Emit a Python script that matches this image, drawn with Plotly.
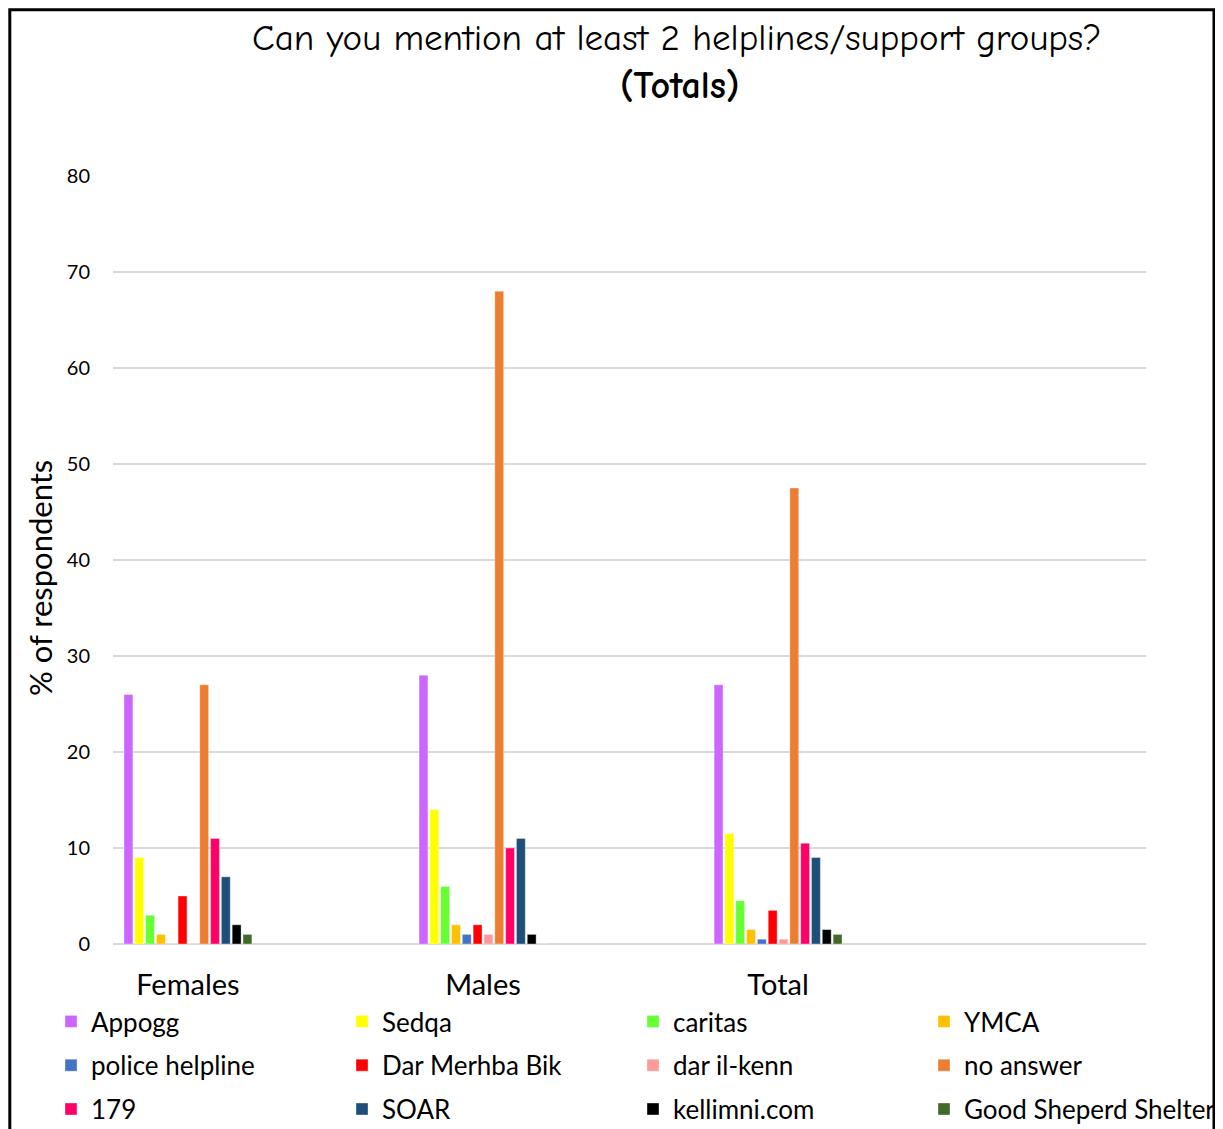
import plotly.graph_objects as go

categories = ["Females", "Males", "Total"]
series_names = ["Appogg", "Sedqa", "caritas", "YMCA", "police helpline", "Dar Merhba Bik",
                "dar il-kenn", "no answer", "179", "SOAR", "kellimni.com", "Good Sheperd Shelter"]
colors = ["#CC66FF", "#FFFF00", "#66FF33", "#FFC000", "#4472C4", "#FF0000",
          "#FF9999", "#ED7D31", "#FF0066", "#1F4E79", "#000000", "#43682B"]

appogg = [26, 28, 27]
sedqa = [9, 14, 11.5]
caritas = [3, 6, 4.5]
ymca = [1, 2, 1.5]
police = [0, 1, 0.5]
dar_merhba = [5, 2, 3.5]
dar_il_kenn = [0, 1, 0.5]
no_answer = [27, 68, 47.5]
n179 = [11, 10, 10.5]
soar = [7, 11, 9]
kellimni = [2, 1, 1.5]
good_sheperd = [1, 0, 1]

series_values = [appogg, sedqa, caritas, ymca, police, dar_merhba, dar_il_kenn,
                 no_answer, n179, soar, kellimni, good_sheperd]

y_title = "% of respondents"
title_line1 = "Can you mention at least 2 helplines/support groups?"
title_line2 = "(Totals)"

# default page body margin of the html page
OFF = 8
W, H = 1223 - OFF, 1129 - OFF
ML = 113 - OFF
MR = W - (1146 - OFF)
MT = 176 - OFF
MB = H - (944 - OFF)
PW = W - ML - MR
PH = H - MT - MB


def px(x):
    return (x - OFF - ML) / PW


def py(y):
    return (H - MB - (y - OFF)) / PH


legend_ids = ["legend", "legend2", "legend3", "legend4"]

fig = go.Figure()
for i, (name, vals, col) in enumerate(zip(series_names, series_values, colors)):
    fig.add_trace(go.Bar(
        x=categories, y=vals, name=name,
        legend=legend_ids[i % 4], legendgroup=name,
        marker=dict(color=col, line=dict(color="rgba(255,255,255,0.6)", width=0.6)),
    ))

body_font = "Lato, Carlito, Calibri, 'Open Sans', sans-serif"
title_font = "'Comic Sans MS', 'Comic Neue', 'Noto Sans', sans-serif"

legend_text_x = [91, 382, 673, 964]


def legend_cfg(tx):
    return dict(
        orientation="v", x=px(tx - 40), y=py(998), xanchor="left", yanchor="top",
        font=dict(size=26, family=body_font, color="black"),
        tracegroupgap=7, traceorder="grouped", itemwidth=30,
        bgcolor="rgba(0,0,0,0)",
    )


fig.update_layout(
    width=W, height=H,
    margin=dict(l=ML, r=MR, t=MT, b=MB, pad=0, autoexpand=False),
    paper_bgcolor="white", plot_bgcolor="white",
    barmode="group", bargap=0.56, bargroupgap=0.18,
    font=dict(family=body_font, color="black"),
    showlegend=True,
    legend=legend_cfg(legend_text_x[0]),
    legend2=legend_cfg(legend_text_x[1]),
    legend3=legend_cfg(legend_text_x[2]),
    legend4=legend_cfg(legend_text_x[3]),
    xaxis=dict(
        range=[-0.254, 3.247], showgrid=False, zeroline=False, showline=False,
        ticks="", tickfont=dict(size=29, family=body_font, color="black"),
        ticklabelstandoff=21,
    ),
    yaxis=dict(
        range=[0, 80], tickvals=[0, 10, 20, 30, 40, 50, 60, 70, 80],
        showgrid=True, gridcolor="#D9D9D9", gridwidth=1.8,
        zeroline=True, zerolinecolor="#D9D9D9", zerolinewidth=1.8,
        showline=False, ticks="", ticklabelstandoff=22,
        tickfont=dict(size=20, family=body_font, color="black"),
    ),
    annotations=[
        dict(text=title_line1,
             xref="paper", yref="paper", x=px(677), y=py(38), xanchor="center", yanchor="middle",
             showarrow=False, font=dict(size=37, family=title_font, color="black")),
        dict(text="<b>" + title_line2 + "</b>",
             xref="paper", yref="paper", x=px(679), y=py(86), xanchor="center", yanchor="middle",
             showarrow=False, font=dict(size=38, family=title_font, color="black")),
        dict(text=y_title, textangle=-90,
             xref="paper", yref="paper", x=px(40), y=py(578), xanchor="center", yanchor="middle",
             showarrow=False, font=dict(size=31, family=body_font, color="black")),
    ],
    shapes=[
        dict(type="rect", xref="paper", yref="paper",
             x0=px(OFF + 1.8), x1=px(1214), y0=py(1145), y1=py(OFF + 1.8),
             line=dict(color="black", width=3), fillcolor="rgba(0,0,0,0)", layer="above"),
    ],
)

fig.write_html("out.html")
